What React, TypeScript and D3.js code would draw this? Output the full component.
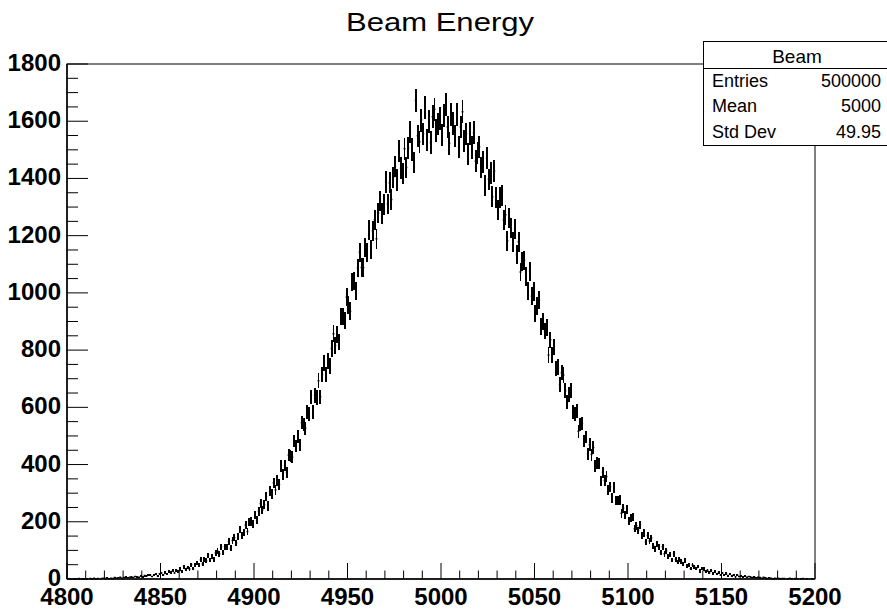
import React from "react";
import * as d3 from "d3";

// Histogram "Beam Energy": counts per bin, bins of width 1 starting at 4800
const binStart = 4800;
const binWidth = 1;
const counts: number[] = [
  0,1,0,0,1,0,2,0,1,1,
  1,0,2,1,3,1,2,0,2,3,
  2,4,1,3,2,5,3,4,6,3,
  5,7,4,6,8,5,9,7,6,10,
  8,12,10,13,15,9,14,17,11,18,
  21,15,24,17,25,22,29,21,31,27,
  35,26,43,34,40,35,50,36,49,57,
  50,67,52,67,64,83,66,80,69,91,
  97,88,113,92,111,111,131,107,135,144,
  126,148,173,151,162,188,166,198,201,193,
  224,205,236,264,241,260,288,255,307,297,
  336,311,345,330,395,365,396,373,433,431,
  426,482,466,498,468,547,539,527,583,577,
  637,585,642,634,693,637,715,755,714,763,
  745,806,857,816,854,829,917,918,904,985,
  958,936,1038,1041,1006,1087,1142,1089,1088,1159,
  1141,1220,1152,1217,1256,1189,1279,1321,1277,1309,
  1388,1311,1385,1326,1404,1442,1395,1495,1436,1418,
  1504,1438,1507,1563,1501,1456,1672,1549,1528,1604,
  1556,1648,1534,1598,1526,1616,1642,1568,1590,1611,
  1552,1619,1658,1580,1522,1624,1592,1548,1623,1510,
  1580,1633,1531,1555,1484,1557,1508,1560,1460,1488,
  1511,1438,1457,1375,1471,1397,1420,1336,1426,1333,
  1289,1335,1340,1255,1273,1182,1262,1227,1178,1224,
  1134,1179,1073,1111,1113,1057,1008,1076,989,1005,
  927,954,974,882,901,867,880,783,836,783,
  812,735,742,680,721,713,658,618,645,660,
  583,576,586,516,540,544,482,496,437,470,
  435,460,395,405,404,342,373,344,358,310,
  322,283,320,274,274,277,230,247,224,242,
  202,214,217,176,186,170,190,151,161,129,
  152,133,143,116,104,122,111,93,113,88,
  99,80,85,66,88,68,59,69,61,51,
  64,47,50,36,49,42,37,44,28,36,
  35,26,31,22,29,20,25,18,23,14,
  21,15,19,12,17,11,15,8,13,9,
  11,8,10,6,9,7,5,8,4,6,
  5,3,6,4,2,4,3,1,3,2,
  3,1,2,2,0,1,3,1,0,2,
  1,0,1,2,0,1,0,0,1,0,
];

const title = "Beam Energy";
const xDomain = [4800, 5200];
const yDomain = [0, 1800];
const xMajorStep = 50;
const xMinorStep = 10;
const yMajorStep = 200;
const yMinorStep = 50;
const statsName = "Beam";
const statsLabels = ["Entries", "Mean", "Std Dev"];
const statsValues = ["500000", "5000", "49.95"];

const W = 887;
const H = 609;
const M = { left: 67, right: 815, top: 64, bottom: 579 };
const FONT = "'Liberation Sans', Arial, Helvetica, sans-serif";

export default function App() {
  const x = d3.scaleLinear().domain(xDomain).range([M.left, M.right]);
  const y = d3.scaleLinear().domain(yDomain).range([M.bottom, M.top]);

  const xMajor = d3.range(xDomain[0], xDomain[1] + 0.001, xMajorStep);
  const xMinor = d3.range(xDomain[0], xDomain[1] + 0.001, xMinorStep).filter((v) => v % xMajorStep !== 0);
  const yMajor = d3.range(yDomain[0], yDomain[1] + 0.001, yMajorStep);
  const yMinor = d3.range(yDomain[0], yDomain[1] + 0.001, yMinorStep).filter((v) => v % yMajorStep !== 0);

  let hPath = "";
  let vPath = "";
  counts.forEach((c, i) => {
    if (c <= 0) return;
    const lo = binStart + i * binWidth;
    const hi = lo + binWidth;
    const mid = lo + binWidth / 2;
    const e = Math.sqrt(c);
    const yTop = y(Math.min(c + e, yDomain[1]));
    const yBot = y(Math.max(c - e, 0));
    hPath += `M${x(lo).toFixed(2)},${y(c).toFixed(2)}H${x(hi).toFixed(2)}`;
    vPath += `M${x(mid).toFixed(2)},${yTop.toFixed(2)}V${yBot.toFixed(2)}`;
  });

  const boxX = 703;
  const boxY = 41;
  const boxW = 190;
  const boxH = 104;
  const rowH = 25.3;

  return (
    <svg width={W} height={H} style={{ position: "absolute", left: 0, top: 0, background: "#fff" }} fontFamily={FONT}>
      <rect x={0} y={0} width={W} height={H} fill="#fff" />
      <text x={440} y={31} fontSize={26} textAnchor="middle" fill="#000" textLength={188} lengthAdjust="spacingAndGlyphs">{title}</text>

      {/* frame */}
      <rect x={M.left} y={M.top} width={M.right - M.left} height={M.bottom - M.top} fill="none" stroke="#000" strokeWidth={1} />

      {/* histogram */}
      <path d={hPath} fill="none" stroke="#000" strokeWidth={1.5} />
      <path d={vPath} fill="none" stroke="#000" strokeWidth={1.9} shapeRendering="crispEdges" />

      {/* x axis ticks */}
      {xMajor.map((v) => (
        <line key={"xM" + v} x1={x(v)} x2={x(v)} y1={M.bottom} y2={M.bottom - 16} stroke="#000" strokeWidth={1} />
      ))}
      {xMinor.map((v) => (
        <line key={"xm" + v} x1={x(v)} x2={x(v)} y1={M.bottom} y2={M.bottom - 8.5} stroke="#000" strokeWidth={1} />
      ))}
      {xMajor.map((v) => (
        <text key={"xl" + v} x={x(v)} y={604.5} fontSize={24} fontWeight="bold" textAnchor="middle" fill="#000">{v}</text>
      ))}

      {/* y axis ticks */}
      {yMajor.map((v) => (
        <line key={"yM" + v} x1={M.left} x2={M.left + 21} y1={y(v)} y2={y(v)} stroke="#000" strokeWidth={1} />
      ))}
      {yMinor.map((v) => (
        <line key={"ym" + v} x1={M.left} x2={M.left + 11} y1={y(v)} y2={y(v)} stroke="#000" strokeWidth={1} />
      ))}
      {yMajor.map((v) => (
        <text key={"yl" + v} x={61} y={y(v) + 7} fontSize={24} fontWeight="bold" textAnchor="end" fill="#000">{v}</text>
      ))}
      <line x1={M.left} x2={M.left} y1={M.top} y2={M.bottom} stroke="#000" strokeWidth={1.5} />
      <line x1={M.left} x2={M.right} y1={M.bottom} y2={M.bottom} stroke="#000" strokeWidth={1.5} />

      {/* stats box */}
      <rect x={boxX + 0.5} y={boxY + 0.5} width={boxW} height={boxH} fill="#fff" stroke="#000" strokeWidth={1} />
      <line x1={boxX} x2={boxX + boxW} y1={boxY + 27.5} y2={boxY + 27.5} stroke="#000" strokeWidth={1} />
      <text x={797} y={boxY + 22} fontSize={19} textAnchor="middle" fill="#000">{statsName}</text>
      {statsLabels.map((l, i) => (
        <g key={l}>
          <text x={712} y={87 + i * rowH} fontSize={18} fill="#000">{l}</text>
          <text x={881} y={87 + i * rowH} fontSize={18} textAnchor="end" fill="#000">{statsValues[i]}</text>
        </g>
      ))}
    </svg>
  );
}
